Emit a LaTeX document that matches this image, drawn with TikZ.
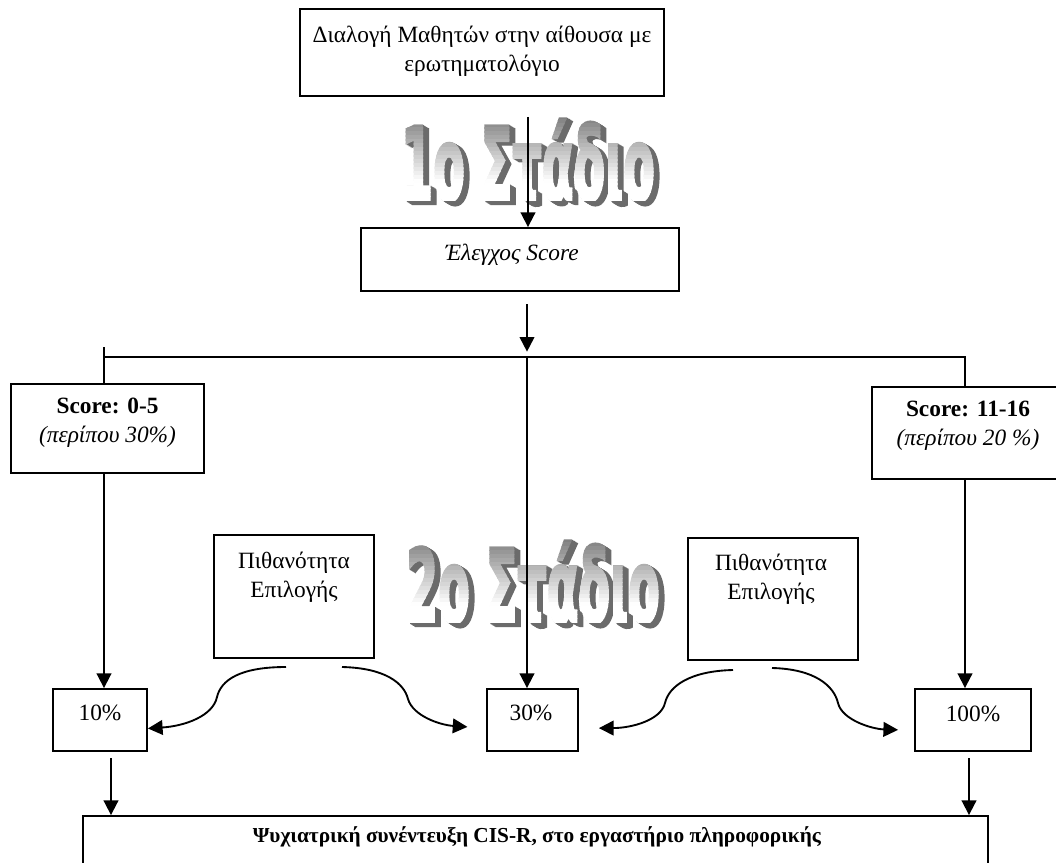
\documentclass[tikz,border=0pt]{standalone}
\usepackage{fontspec}
\setmainfont{Liberation Serif}
\newfontfamily\artfont{DejaVu Sans}[BoldFeatures={FakeBold=3}]
\usetikzlibrary{arrows.meta,calc}

\newcommand{\stageword}[1]{\scalebox{0.455}[1]{\artfont\bfseries\fontsize{76}{76}\selectfont #1}}

\tikzset{
  box/.style={draw, line width=1.4pt, inner sep=0pt},
  txt/.style={inner sep=0pt, align=center, font=\fontsize{17.5}{21.75}\selectfont},
  line/.style={line width=1.4pt},
  arr/.style={line width=1.4pt, -{Triangle[length=11pt,width=11pt]}},
  stage/.style={inner sep=0pt, anchor=base},
}

\begin{document}
\begin{tikzpicture}[x=0.75pt,y=0.75pt,yscale=-1,xscale=1]
\useasboundingbox (0,0) rectangle (1056,863);

%Shape: Rectangles
\node[box, minimum width=273pt, minimum height=65.25pt] (select) at (482,52.5) {};
\node[box, minimum width=238.5pt, minimum height=47.25pt] (check) at (520,259.5) {};
\node[box, minimum width=144.75pt, minimum height=66.75pt] (lowscore) at (107.5,428.5) {};
\node[box, minimum width=141pt, minimum height=69pt] (highscore) at (966,433) {};
\node[box, minimum width=120pt, minimum height=92.25pt] (probL) at (294,596.5) {};
\node[box, minimum width=127.5pt, minimum height=91.5pt] (probR) at (773,599) {};
\node[box, minimum width=70.5pt, minimum height=46.5pt] (ten) at (100,720) {};
\node[box, minimum width=68.25pt, minimum height=46.5pt] (thirty) at (532.5,720) {};
\node[box, minimum width=87pt, minimum height=46.5pt] (hundred) at (973,720) {};
\node[box, minimum width=678.75pt, minimum height=48pt] (cis) at (535.5,848) {};

% Text Node
\node[txt] (selectT) at (482,51) {Διαλογή Μαθητών στην αίθουσα με\\ερωτηματολόγιο};
% Text Node
\node[txt] (checkT) at (512,255) {\textit{Έλεγχος Score}};
% Text Node
\node[txt] (lowscoreT) at (107.5,423) {\textbf{Score: 0-5}\\\textit{(περίπου 30\%)}};
% Text Node
\node[txt] (highscoreT) at (968,426) {\textbf{Score: 11-16}\\\textit{(περίπου 20 \%)}};
% Text Node
\node[txt] (probLT) at (294,577) {Πιθανότητα\\Επιλογής};
% Text Node
\node[txt] (probRT) at (771,579) {Πιθανότητα\\Επιλογής};
% Text Node
\node[txt] (tenT) at (100,713) {10\%};
% Text Node
\node[txt] (thirtyT) at (531,713) {30\%};
% Text Node
\node[txt] (hundredT) at (973,714) {100\%};
% Text Node
\node[txt, font=\fontsize{16}{20}\selectfont] (cisT) at (537,837) {\textbf{Ψυχιατρική συνέντευξη CIS-R, στο εργαστήριο πληροφορικής}};

%WordArt: shadow, then shaded letters
\foreach \k in {1,...,6} {
  \node[stage, text=black!58] (shA\k) at ($(528,200)+(\k,0.6*\k)$) {\stageword{1ο Στάδιο}};
  \node[stage, text=black!58] (shB\k) at ($(533,622)+(\k,0.6*\k)$) {\stageword{2ο Στάδιο}};
}
\foreach \i in {0,...,20} {
  \pgfmathsetmacro\g{max(0,50-3.1*\i)}
  \begin{scope}
    \clip (395,{116+4*\i}) rectangle (665,{120.6+4*\i});
    \node[stage, text=black!\g] (stA\i) at (528,200) {\stageword{1ο Στάδιο}};
  \end{scope}
  \begin{scope}
    \clip (400,{538+4*\i}) rectangle (670,{542.6+4*\i});
    \node[stage, text=black!\g] (stB\i) at (533,622) {\stageword{2ο Στάδιο}};
  \end{scope}
}

%Straight Lines
\coordinate (a1) at (528,117);
\draw[arr] (a1) -- (a1 |- check.north);
\coordinate (a2) at (527,304);
\coordinate (bus) at (527,357);
\draw[arr, shorten >=4pt] (a2) -- (bus);
\coordinate (stubL) at (104,347);
\coordinate (busR) at (965,357);
\draw[line] (stubL) -- (stubL |- lowscore.north);
\draw[line] (stubL |- busR) -- (busR) -- (busR |- highscore.north);
\draw[arr] (bus) -- (bus |- thirty.north);
\draw[arr] (lowscore.south -| stubL) -- (stubL |- ten.north);
\draw[arr] (highscore.south -| busR) -- (busR |- hundred.north);
\coordinate (d1) at (111,758);
\draw[arr] (d1) -- (d1 |- cis.north);
\coordinate (d2) at (969,758);
\draw[arr] (d2) -- (d2 |- cis.north);

%Curve Lines
\coordinate (cL1) at (286,667);
\draw[arr] (cL1) .. controls (240,667) and (221,680) .. (217,697) .. controls (213,716) and (185,726) .. (ten.-10);
\coordinate (cL2) at (342,667);
\draw[arr, shorten >=14pt] (cL2) .. controls (385,668) and (404,683) .. (408,699) .. controls (413,716) and (440,725) .. (thirty.-170);
\coordinate (cR1) at (733,670);
\draw[arr, shorten >=15pt] (cR1) .. controls (690,671) and (669,686) .. (665,703) .. controls (661,720) and (632,728) .. (thirty.-10);
\coordinate (cR2) at (772,668);
\draw[arr, shorten >=12pt] (cR2) .. controls (815,669) and (834,686) .. (838,703) .. controls (842,720) and (872,729) .. (hundred.-170);

\end{tikzpicture}
\end{document}
